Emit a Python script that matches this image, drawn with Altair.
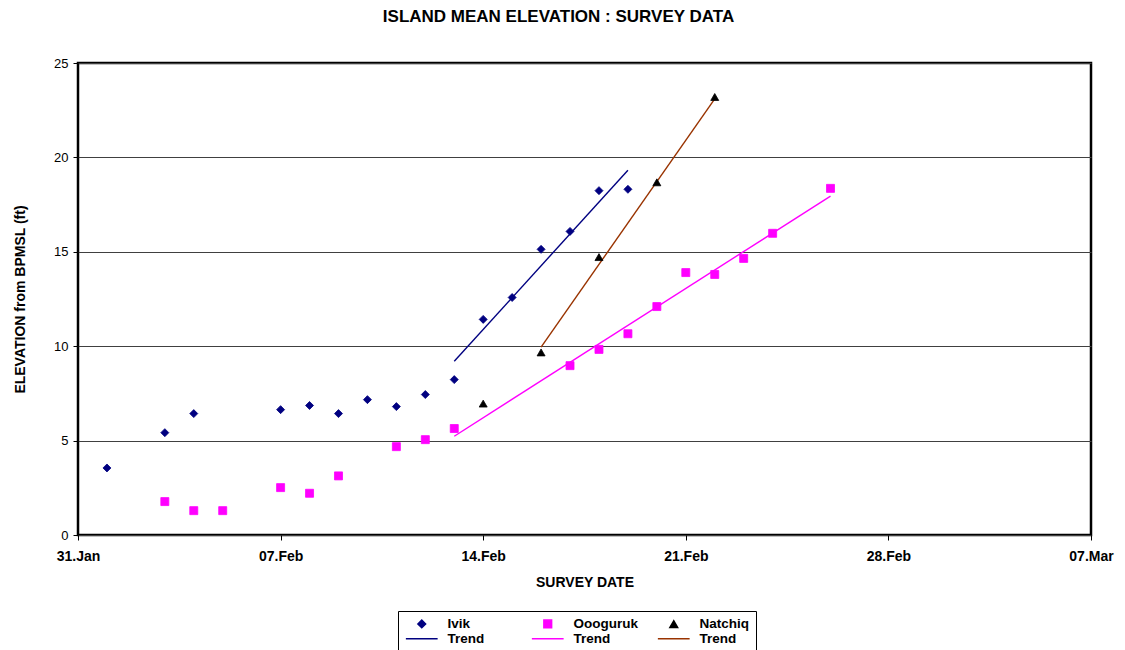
import altair as alt
import pandas as pd

# ---------------- data ----------------
ivik_dates = ["2006-02-01", "2006-02-03", "2006-02-04", "2006-02-07", "2006-02-08",
              "2006-02-09", "2006-02-10", "2006-02-11", "2006-02-12", "2006-02-13",
              "2006-02-14", "2006-02-15", "2006-02-16", "2006-02-17", "2006-02-18",
              "2006-02-19"]
ivik_elev = [3.55, 5.42, 6.43, 6.64, 6.86, 6.43, 7.17, 6.80, 7.44, 8.23,
             11.42, 12.58, 15.13, 16.08, 18.24, 18.31]

oog_dates = ["2006-02-03", "2006-02-04", "2006-02-05", "2006-02-07", "2006-02-08",
             "2006-02-09", "2006-02-11", "2006-02-12", "2006-02-13", "2006-02-17",
             "2006-02-18", "2006-02-19", "2006-02-20", "2006-02-21", "2006-02-22",
             "2006-02-23", "2006-02-24", "2006-02-26"]
oog_elev = [1.77, 1.29, 1.29, 2.51, 2.21, 3.13, 4.68, 5.05, 5.64, 8.97,
            9.83, 10.66, 12.10, 13.90, 13.80, 14.65, 15.98, 18.36]

nat_dates = ["2006-02-14", "2006-02-16", "2006-02-18", "2006-02-20", "2006-02-22"]
nat_elev = [6.96, 9.67, 14.72, 18.68, 23.20]

# trend lines (end points)
trend_ivik_dates = ["2006-02-13", "2006-02-19"]
trend_ivik_elev = [9.20, 19.32]
trend_oog_dates = ["2006-02-13", "2006-02-26"]
trend_oog_elev = [5.23, 17.95]
trend_nat_dates = ["2006-02-16", "2006-02-22"]
trend_nat_elev = [9.95, 23.10]

series_names = ["Ivik", "Oooguruk", "Natchiq", "Trend", "Trend ", "Trend  "]
series_colors = ["#000080", "#FF00FF", "#000000", "#000080", "#FF00FF", "#993300"]
series_shapes = ["diamond", "square", "triangle-up",
                 "M-4.1,0H4.1", "M-4.1,0H4.1", "M-4.1,0H4.1"]

x_tick_dates = [(1, 31), (2, 7), (2, 14), (2, 21), (2, 28), (3, 7)]
y_ticks = [0, 5, 10, 15, 20, 25]

# ---------------- tables ----------------
pts = pd.concat([
    pd.DataFrame({"date": ivik_dates, "elev": ivik_elev, "series": "Ivik"}),
    pd.DataFrame({"date": oog_dates, "elev": oog_elev, "series": "Oooguruk"}),
    pd.DataFrame({"date": nat_dates, "elev": nat_elev, "series": "Natchiq"}),
], ignore_index=True)

trend = pd.concat([
    pd.DataFrame({"date": trend_ivik_dates, "elev": trend_ivik_elev, "series": "Trend"}),
    pd.DataFrame({"date": trend_oog_dates, "elev": trend_oog_elev, "series": "Trend "}),
    pd.DataFrame({"date": trend_nat_dates, "elev": trend_nat_elev, "series": "Trend  "}),
], ignore_index=True)

FONT = "Liberation Sans"

x_enc = alt.X(
    "date:T",
    scale=alt.Scale(type="utc",
                    domain=[alt.DateTime(year=2006, month=1, date=31, utc=True),
                            alt.DateTime(year=2006, month=3, date=7, utc=True)]),
    axis=alt.Axis(
        title="SURVEY DATE",
        values=[alt.DateTime(year=2006, month=m, date=d, utc=True) for m, d in x_tick_dates],
        format="%d.%b",
        labelFont=FONT, labelFontSize=14, labelFontWeight="bold", labelColor="black",
        labelPadding=9, labelFlush=False, labelOverlap=False,
        tickSize=5, tickColor="black", tickWidth=1,
        titleFont=FONT, titleFontSize=14, titleFontWeight="bold", titleColor="black",
        titlePadding=12,
        domain=False, grid=False,
    ),
)

y_enc = alt.Y(
    "elev:Q",
    scale=alt.Scale(domain=[0, 25], nice=False),
    axis=alt.Axis(
        title="ELEVATION from BPMSL (ft)",
        values=y_ticks,
        labelFont=FONT, labelFontSize=13, labelColor="black", labelPadding=5,
        tickSize=5, tickColor="black", tickWidth=1,
        titleFont=FONT, titleFontSize=14, titleFontWeight="bold", titleColor="black",
        titlePadding=26,
        domain=False, grid=True, gridColor="#404040", gridWidth=1,
    ),
)

legend = alt.Legend(
    title=None, orient="none", legendX=320, legendY=548,
    columns=3, direction="horizontal", gridAlign="all",
    columnPadding=16, rowPadding=0,
    symbolSize=60, symbolStrokeWidth=1.5, symbolOffset=11,
    labelOffset=19,
    labelFont=FONT, labelFontSize=13.5, labelFontWeight="bold", labelColor="black",
    strokeColor="black", fillColor="white", padding=6, cornerRadius=0,
)

fill_scale = alt.Scale(domain=series_names, range=series_colors)
shape_scale = alt.Scale(domain=series_names, range=series_shapes)

points = alt.Chart(pts).mark_point(filled=True, opacity=1, size=64, strokeWidth=0.8).encode(
    x=x_enc, y=y_enc,
    fill=alt.Fill("series:N", scale=fill_scale, legend=legend),
    stroke=alt.Stroke("series:N", scale=fill_scale, legend=legend),
    shape=alt.Shape("series:N", scale=shape_scale, legend=legend),
)

lines = alt.Chart(trend).mark_line(strokeWidth=1.4).encode(
    x=x_enc, y=y_enc,
    stroke=alt.Stroke("series:N", scale=fill_scale, legend=legend),
)

chart = alt.layer(lines, points).properties(
    width=1013, height=472,
    background="white",
    title=alt.TitleParams("ISLAND MEAN ELEVATION : SURVEY DATA", font=FONT, fontSize=17,
                          fontWeight="bold", color="black", anchor="middle", dx=-26,
                          offset=31),
    autosize=alt.AutoSizeParams(type="none"),
    padding={"left": 78, "top": 63, "right": 34, "bottom": 115},
).configure_view(
    stroke="black", strokeWidth=2.5
)

chart.save("out.html", embed_options={"renderer": "svg", "actions": False})
